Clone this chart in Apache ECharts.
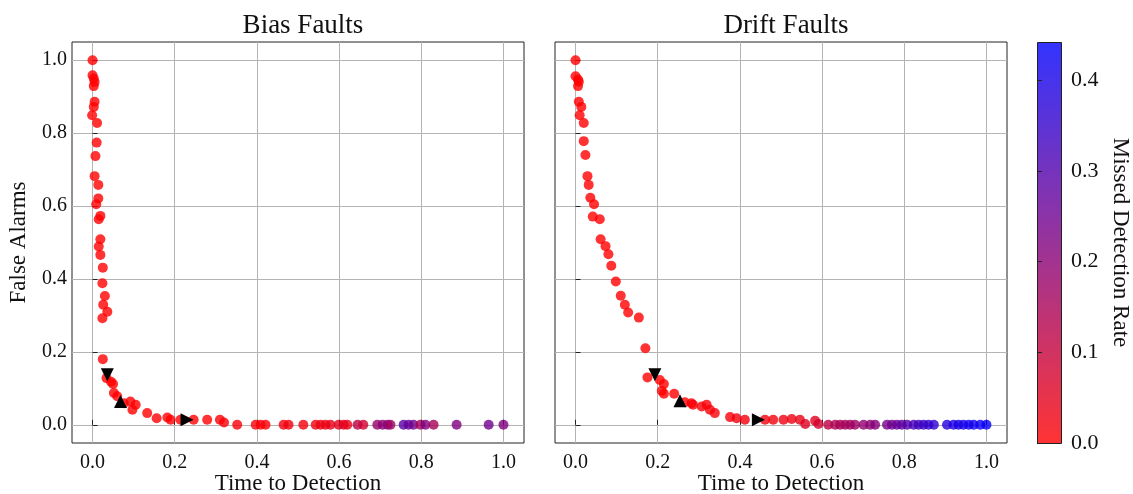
<!DOCTYPE html>
<html>
<head>
<meta charset="utf-8">
<script src="https://cdn.jsdelivr.net/npm/echarts@6/dist/echarts.min.js"></script>
<style>
  html, body { margin: 0; padding: 0; background: #ffffff; }
  #chart { width: 1133px; height: 494px; }
</style>
</head>
<body>
<div id="chart"></div>
<script>
// Bias faults: time to detection, false alarm rate, missed detection rate
const biasTime = [0.000, 0.000, 0.003, 0.005, 0.003, 0.005, 0.003, -0.001, 0.011, 0.010, 0.007, 0.005, 0.014, 0.014, 0.009, 0.019, 0.015, 0.019, 0.015, 0.019, 0.025, 0.024, 0.030, 0.026, 0.036, 0.024, 0.025, 0.034, 0.045, 0.050, 0.052, 0.060, 0.076, 0.092, 0.105, 0.097, 0.133, 0.156, 0.182, 0.190, 0.214, 0.246, 0.279, 0.310, 0.320, 0.352, 0.397, 0.409, 0.421, 0.465, 0.477, 0.513, 0.543, 0.555, 0.567, 0.579, 0.599, 0.611, 0.620, 0.645, 0.659, 0.693, 0.706, 0.718, 0.725, 0.757, 0.769, 0.781, 0.798, 0.810, 0.830, 0.886, 0.964, 1.000];
const biasFalseAlarm = [1.000, 0.959, 0.950, 0.940, 0.929, 0.886, 0.872, 0.849, 0.828, 0.774, 0.737, 0.682, 0.658, 0.621, 0.605, 0.573, 0.564, 0.509, 0.489, 0.466, 0.431, 0.388, 0.353, 0.329, 0.310, 0.292, 0.180, 0.128, 0.118, 0.112, 0.087, 0.078, 0.059, 0.064, 0.055, 0.041, 0.032, 0.018, 0.020, 0.014, 0.014, 0.014, 0.014, 0.014, 0.006, 0.000, 0.000, 0.000, 0.000, 0.000, 0.000, 0.000, 0.000, 0.000, 0.000, 0.000, 0.000, 0.000, 0.000, 0.000, 0.000, 0.000, 0.000, 0.000, 0.000, 0.000, 0.000, 0.000, 0.000, 0.000, 0.000, 0.000, 0.000, 0.000];
const biasMissed = [0, 0, 0, 0, 0, 0, 0, 0, 0, 0, 0, 0, 0, 0, 0, 0, 0, 0, 0, 0, 0, 0, 0, 0, 0, 0, 0, 0, 0, 0, 0, 0, 0, 0, 0, 0, 0, 0, 0, 0, 0, 0, 0, 0.01, 0.01, 0.01, 0.01, 0.01, 0.01, 0.02, 0.02, 0.02, 0.03, 0.03, 0.03, 0.04, 0.05, 0.06, 0.04, 0.12, 0.08, 0.18, 0.20, 0.20, 0.17, 0.28, 0.27, 0.25, 0.15, 0.22, 0.15, 0.22, 0.25, 0.22];

// Drift faults
const driftTime = [0.000, 0.000, 0.006, 0.008, 0.006, 0.008, 0.014, 0.010, 0.020, 0.020, 0.024, 0.029, 0.032, 0.036, 0.045, 0.042, 0.059, 0.061, 0.073, 0.080, 0.087, 0.098, 0.110, 0.120, 0.128, 0.154, 0.170, 0.175, 0.205, 0.215, 0.210, 0.215, 0.240, 0.266, 0.282, 0.286, 0.307, 0.319, 0.327, 0.339, 0.376, 0.392, 0.412, 0.461, 0.481, 0.506, 0.526, 0.546, 0.559, 0.583, 0.591, 0.615, 0.632, 0.644, 0.656, 0.668, 0.680, 0.701, 0.717, 0.729, 0.758, 0.770, 0.782, 0.794, 0.807, 0.823, 0.835, 0.847, 0.859, 0.872, 0.904, 0.920, 0.932, 0.944, 0.957, 0.969, 0.985, 1.000];
const driftFalseAlarm = [1.000, 0.956, 0.947, 0.941, 0.929, 0.886, 0.872, 0.849, 0.828, 0.778, 0.740, 0.682, 0.658, 0.623, 0.605, 0.571, 0.564, 0.509, 0.490, 0.468, 0.436, 0.393, 0.354, 0.329, 0.308, 0.294, 0.210, 0.130, 0.123, 0.112, 0.093, 0.085, 0.085, 0.062, 0.059, 0.055, 0.050, 0.055, 0.041, 0.032, 0.021, 0.018, 0.014, 0.014, 0.014, 0.014, 0.016, 0.014, 0.002, 0.011, 0.002, 0.000, 0.000, 0.000, 0.000, 0.000, 0.000, 0.000, 0.000, 0.000, 0.000, 0.000, 0.000, 0.000, 0.000, 0.000, 0.000, 0.000, 0.000, 0.000, 0.000, 0.000, 0.000, 0.000, 0.000, 0.000, 0.000, 0.000];
const driftMissed = [0, 0, 0, 0, 0, 0, 0, 0, 0, 0, 0, 0, 0, 0, 0, 0, 0, 0, 0, 0, 0, 0, 0, 0, 0, 0, 0, 0, 0, 0, 0, 0, 0, 0, 0.01, 0.01, 0.01, 0.01, 0.01, 0.01, 0.01, 0.02, 0.02, 0.02, 0.02, 0.03, 0.03, 0.04, 0.06, 0.05, 0.08, 0.12, 0.14, 0.15, 0.15, 0.16, 0.17, 0.19, 0.20, 0.21, 0.24, 0.25, 0.26, 0.28, 0.29, 0.32, 0.33, 0.34, 0.35, 0.36, 0.38, 0.39, 0.40, 0.40, 0.41, 0.41, 0.42, 0.43];

// Highlighted operating points (down, up, right triangles)
const biasHighlights = [[0.036, 0.137], [0.068, 0.064], [0.230, 0.014]];
const driftHighlights = [[0.193, 0.137], [0.254, 0.066], [0.445, 0.014]];
const highlightRotations = [180, 0, -90];

const axisTicks = [0, 0.2, 0.4, 0.6, 0.8, 1.0];
const colorbarTicks = [0, 0.1, 0.2, 0.3, 0.4];
const missedMax = 0.442;
const panelTitles = ['Bias Faults', 'Drift Faults'];

const FONT = 'Liberation Serif';

function zip3(a, b, c) { return a.map((v, i) => [v, b[i], c[i]]); }

function highlightSeries(points, axisIndex) {
  return {
    type: 'scatter',
    xAxisIndex: axisIndex,
    yAxisIndex: axisIndex,
    symbol: 'triangle',
    symbolSize: 13,
    z: 5,
    itemStyle: { color: '#000000', opacity: 1 },
    data: points.map((p, i) => ({ value: p, symbolRotate: highlightRotations[i] })),
    silent: true
  };
}

function panelX(gridIndex) {
  return {
    type: 'value', gridIndex, min: -0.05, max: 1.05,
    name: 'Time to Detection', nameLocation: 'middle', nameGap: 29, nameMoveOverlap: false,
    nameTextStyle: { fontFamily: FONT, fontSize: 23, color: '#111' },
    axisLine: { show: false },
    axisTick: { show: true, inside: true, length: 5, customValues: axisTicks, lineStyle: { color: '#222' } },
    axisLabel: { customValues: axisTicks, fontFamily: FONT, fontSize: 20, color: '#111', margin: 10,
      formatter: v => v.toFixed(1) },
    splitLine: { show: true, lineStyle: { color: '#b4b4b4', width: 1 } }
  };
}

function panelY(gridIndex, showLabels) {
  return {
    type: 'value', gridIndex, min: -0.05, max: 1.05,
    name: showLabels ? 'False Alarms' : '', nameLocation: 'middle', nameGap: 42,
    nameTextStyle: { fontFamily: FONT, fontSize: 23, color: '#111' },
    axisLine: { show: false },
    axisTick: { show: true, inside: true, length: 5, customValues: axisTicks, lineStyle: { color: '#222' } },
    axisLabel: { show: showLabels, customValues: axisTicks, fontFamily: FONT, fontSize: 20, color: '#111', margin: 5,
      formatter: v => v.toFixed(1) },
    splitLine: { show: true, lineStyle: { color: '#b4b4b4', width: 1 } }
  };
}

const chart = echarts.init(document.getElementById('chart'), null, { renderer: 'canvas' });

const option = {
  backgroundColor: '#ffffff',
  animation: false,
  title: [
    { text: panelTitles[0], left: 298, top: 7, textAlign: 'center',
      textStyle: { fontFamily: FONT, fontSize: 27, fontWeight: 'normal', color: '#111' } },
    { text: panelTitles[1], left: 781, top: 7, textAlign: 'center',
      textStyle: { fontFamily: FONT, fontSize: 27, fontWeight: 'normal', color: '#111' } }
  ],
  grid: [
    { left: 72, top: 42, width: 452, height: 401, show: true, borderColor: '#222', borderWidth: 1,
      backgroundColor: 'transparent', containLabel: false, outerBoundsMode: 'none' },
    { left: 555, top: 42, width: 452, height: 401, show: true, borderColor: '#222', borderWidth: 1,
      backgroundColor: 'transparent', containLabel: false, outerBoundsMode: 'none' },
    { left: 1037, top: 42, width: 24, height: 401, show: false, containLabel: false, outerBoundsMode: 'none' }
  ],
  xAxis: [
    panelX(0),
    panelX(1),
    { type: 'value', gridIndex: 2, show: false, min: 0, max: 1 }
  ],
  yAxis: [
    panelY(0, true),
    panelY(1, false),
    {
      type: 'value', gridIndex: 2, position: 'right', min: 0, max: missedMax,
      name: 'Missed Detection Rate', nameLocation: 'middle', nameGap: 48, nameRotate: -90,
      nameTextStyle: { fontFamily: FONT, fontSize: 23, color: '#111' },
      axisLine: { show: false },
      axisTick: { show: true, inside: false, length: 5, customValues: colorbarTicks, lineStyle: { color: '#222' } },
      axisLabel: { customValues: colorbarTicks, fontFamily: FONT, fontSize: 22, color: '#111', margin: 10,
        formatter: v => v.toFixed(1) },
      splitLine: { show: false }
    }
  ],
  visualMap: {
    type: 'continuous', show: false, seriesIndex: [0, 1], dimension: 2,
    min: 0, max: missedMax, inRange: { color: ['#ff0000', '#0000ff'] }
  },
  graphic: [
    {
      type: 'rect', left: 1037, top: 42, z: 0,
      shape: { width: 24, height: 401 },
      style: {
        fill: new echarts.graphic.LinearGradient(0, 1, 0, 0, [
          { offset: 0, color: 'rgba(255,0,0,0.8)' },
          { offset: 1, color: 'rgba(0,0,255,0.8)' }
        ]),
        stroke: '#222', lineWidth: 1
      }
    }
  ],
  series: [
    {
      type: 'scatter', xAxisIndex: 0, yAxisIndex: 0, symbolSize: 10,
      itemStyle: { opacity: 0.8 }, data: zip3(biasTime, biasFalseAlarm, biasMissed), silent: true
    },
    {
      type: 'scatter', xAxisIndex: 1, yAxisIndex: 1, symbolSize: 10,
      itemStyle: { opacity: 0.8 }, data: zip3(driftTime, driftFalseAlarm, driftMissed), silent: true
    },
    highlightSeries(biasHighlights, 0),
    highlightSeries(driftHighlights, 1)
  ]
};

chart.setOption(option);
</script>
</body>
</html>
